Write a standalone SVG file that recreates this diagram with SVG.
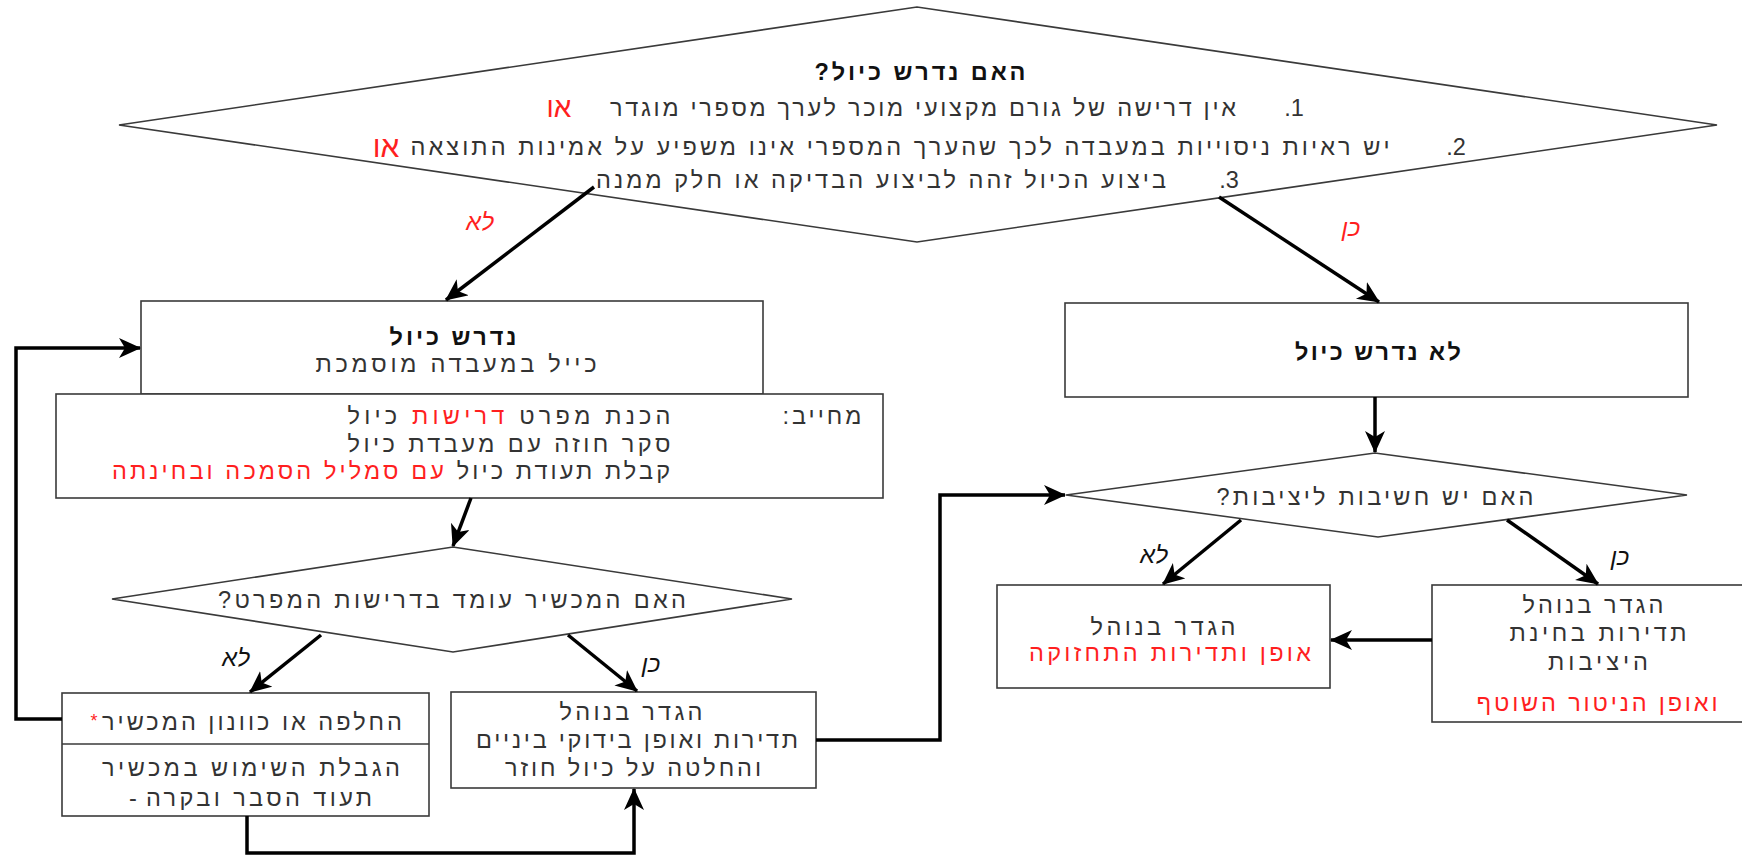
<svg xmlns="http://www.w3.org/2000/svg" width="1742" height="856" viewBox="0 0 1742 856">
<style>
.shape{fill:#fff;stroke:#3a3a3a;stroke-width:1.6}
.conn{fill:none;stroke:#000;stroke-width:3.5;stroke-linejoin:miter}
.t{font-family:"Liberation Sans",Arial,sans-serif;font-size:23.5px;fill:#333;direction:rtl;text-anchor:middle}
.b{font-weight:bold;fill:#111}
.r{fill:#ff1f1f}
.lbl{font-family:"Liberation Sans",Arial,sans-serif;font-size:24px;font-style:italic;direction:rtl;text-anchor:middle;fill:#111}
.lr{fill:#ff1f1f}
</style>
<defs>
<marker id="ah" markerUnits="userSpaceOnUse" markerWidth="24" markerHeight="22" refX="21" refY="10" orient="auto">
<path d="M0,0 L22,10 L0,20 L6,10 z" fill="#000"/>
</marker>
</defs>
<rect width="1742" height="856" fill="#fff"/>

<g id="q1">
<polygon class="shape" points="119,125 917,7 1717,125 917,242"/>
<text class="t b" x="920" y="80" textLength="211">האם נדרש כיול?</text>
<text class="t" x="1294" y="116">1.</text>
<text class="t" x="923" y="116" textLength="626">אין דרישה של גורם מקצועי מוכר לערך מספרי מוגדר</text>
<text class="t r" x="559" y="117" style="font-size:28px">או</text>
<text class="t" x="1456" y="155">2.</text>
<text class="t" x="900" y="155" textLength="979">יש ראיות ניסוייות במעבדה לכך שהערך המספרי אינו משפיע על אמינות התוצאה</text>
<text class="t r" x="386" y="157" style="font-size:30px">או</text>
<text class="t" x="1229" y="188">3.</text>
<text class="t" x="881" y="188" textLength="570">ביצוע הכיול זהה לביצוע הבדיקה או חלק ממנה</text>
</g>

<g id="required">
<rect class="shape" x="141" y="301" width="622" height="93"/>
<text class="t b" x="453" y="345" textLength="127">נדרש כיול</text>
<text class="t" x="456" y="372" textLength="281">כייל במעבדה מוסמכת</text>
</g>

<g id="obligations">
<rect class="shape" x="56" y="394" width="827" height="104"/>
<text class="t" x="822" y="424" textLength="79">מחייב:</text>
<text class="t" x="509" y="424" textLength="323">הכנת מפרט <tspan class="r">דרישות</tspan> כיול</text>
<text class="t" x="509" y="452" textLength="323">סקר חוזה עם מעבדת כיול</text>
<text class="t" x="391" y="479" textLength="558">קבלת תעודת כיול <tspan class="r">עם סמליל הסמכה ובחינתה</tspan></text>
</g>

<g id="q2">
<polygon class="shape" points="112,599 453,547 792,599 453,652"/>
<text class="t" x="452" y="608" textLength="468">האם המכשיר עומד בדרישות המפרט?</text>
</g>

<g id="replace">
<rect class="shape" x="62" y="693" width="367" height="123"/>
<line class="shape" x1="62" y1="744" x2="429" y2="744"/>
<text class="t" x="252" y="730" textLength="300">החלפה או כוונון המכשיר</text>
<text class="t r" x="94" y="727" style="font-size:18px">*</text>
<text class="t" x="251" y="776" textLength="298">הגבלת השימוש במכשיר</text>
<text class="t" x="133" y="806">-</text>
<text class="t" x="259" y="806" textLength="226">תעוד הסבר ובקרה</text>
</g>

<g id="procedure1">
<rect class="shape" x="451" y="692" width="365" height="96"/>
<text class="t" x="631" y="720" textLength="143">הגדר בנוהל</text>
<text class="t" x="637" y="748" textLength="322">תדירות ואופן בידוקי ביניים</text>
<text class="t" x="633" y="776" textLength="256">והחלטה על כיול חוזר</text>
</g>

<g id="notrequired">
<rect class="shape" x="1065" y="303" width="623" height="94"/>
<text class="t b" x="1378" y="360" textLength="166">לא נדרש כיול</text>
</g>

<g id="q3">
<polygon class="shape" points="1066,495 1375,453 1687,495 1378,537"/>
<text class="t" x="1375" y="505" textLength="317">האם יש חשיבות ליציבות?</text>
</g>

<g id="maintenance">
<rect class="shape" x="997" y="585" width="333" height="103"/>
<text class="t" x="1163" y="635" textLength="145">הגדר בנוהל</text>
<text class="t r" x="1170" y="661" textLength="282">אופן ותדירות התחזוקה</text>
</g>

<g id="stability">
<rect class="shape" x="1432" y="585" width="330" height="137"/>
<text class="t" x="1593" y="613" textLength="141">הגדר בנוהל</text>
<text class="t" x="1598" y="641" textLength="177">תדירות בחינת</text>
<text class="t" x="1598" y="670" textLength="100">היציבות</text>
<text class="t r" x="1597" y="711" textLength="241">ואופן הניטור השוטף</text>
</g>

<g id="connectors">
<path class="conn" d="M594,187 L446,300" marker-end="url(#ah)"/>
<path class="conn" d="M1219,197 L1379,302" marker-end="url(#ah)"/>
<path class="conn" d="M471,498 L453,546" marker-end="url(#ah)"/>
<path class="conn" d="M321,635 L250,692" marker-end="url(#ah)"/>
<path class="conn" d="M568,635 L637,691" marker-end="url(#ah)"/>
<path class="conn" d="M62,719 L16,719 L16,348 L140,348" marker-end="url(#ah)"/>
<path class="conn" d="M247,816 L247,853 L634,853 L634,789" marker-end="url(#ah)"/>
<path class="conn" d="M816,740 L940,740 L940,495 L1065,495" marker-end="url(#ah)"/>
<path class="conn" d="M1375,397 L1375,452" marker-end="url(#ah)"/>
<path class="conn" d="M1241,520 L1163,584" marker-end="url(#ah)"/>
<path class="conn" d="M1507,520 L1598,584" marker-end="url(#ah)"/>
<path class="conn" d="M1432,640 L1331,640" marker-end="url(#ah)"/>
<text class="lbl lr" x="480" y="230">לא</text>
<text class="lbl lr" x="1351" y="236">כן</text>
<text class="lbl" x="236" y="666">לא</text>
<text class="lbl" x="651" y="672">כן</text>
<text class="lbl" x="1154" y="563">לא</text>
<text class="lbl" x="1620" y="565">כן</text>
</g>
</svg>
